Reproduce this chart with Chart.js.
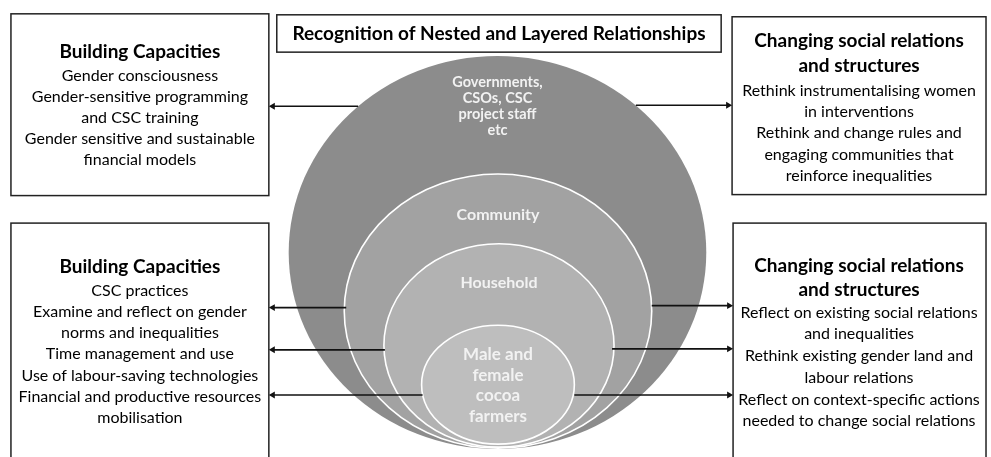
<!DOCTYPE html>
<html>
<head>
<meta charset="utf-8">
<script src="https://cdn.jsdelivr.net/npm/chart.js@4/dist/chart.umd.min.js"></script>
<style>
  html, body { margin: 0; padding: 0; background: #ffffff; }
  #wrap { width: 991px; height: 457px; }
</style>
</head>
<body>
<div id="wrap"><canvas id="c" width="991" height="457"></canvas></div>
<script>
// ---------- content ----------
const diagramTitle = 'Recognition of Nested and Layered Relationships';

const layerLabels = [
  ['Governments,', 'CSOs, CSC', 'project staff', 'etc'],
  ['Community'],
  ['Household'],
  ['Male and', 'female', 'cocoa', 'farmers']
];
const layerCenterX = [497.5, 498, 499, 498];
const layerCenterY = [253, 312.5, 347.5, 387.5];
const layerRadiusX = [210.5, 155, 116, 77];
const layerRadiusY = [200, 139.5, 103.5, 60.5];

const boxHeadings = [
  ['Building Capacities'],
  ['Changing social relations', 'and structures'],
  ['Building Capacities'],
  ['Changing social relations', 'and structures']
];
const boxItems = [
  ['Gender consciousness', 'Gender-sensitive programming', 'and CSC training',
   'Gender sensitive and sustainable', 'financial models'],
  ['Rethink instrumentalising women', 'in interventions', 'Rethink and change rules and',
   'engaging communities that', 'reinforce inequalities'],
  ['CSC practices', 'Examine and reflect on gender', 'norms and inequalities',
   'Time management and use', 'Use of labour-saving technologies',
   'Financial and productive resources', 'mobilisation'],
  ['Reflect on existing social relations', 'and inequalities', 'Rethink existing gender land and',
   'labour relations', 'Reflect on context-specific actions', 'needed to change social relations']
];

// arrows: start at a layer edge, end at a box edge
const arrowFromX = [357, 637, 345, 384, 422, 653, 613, 575];
const arrowToX   = [267, 734, 267, 267, 267, 735, 735, 735];
const arrowY     = [104, 103, 309, 352, 398, 307, 351, 398];

// ---------- layout / style ----------
const FONT = 'Lato, "Open Sans", sans-serif';
const layerColors = ['#8c8c8c', '#a2a2a2', '#b2b2b2', '#bebebe'];
const layerStroke = [null, '#ffffff', '#ffffff', '#ffffff'];
const layerText = {
  firstY: [79.5, 214.5, 283.5, 357],
  step:   [16.3, 0, 0, 21],
  size:   [14.5, 16, 16, 17]
};
const boxRects = [
  { x0: 7,   y0: 10,  x1: 267, y1: 195 },
  { x0: 734, y0: 13,  x1: 990, y1: 194 },
  { x0: 7,   y0: 223, x1: 267, y1: 470 },
  { x0: 735, y0: 223, x1: 990, y1: 470 }
];
const boxText = {
  cx: [137, 862, 137, 862],
  headY: [49, 38, 268, 267],
  headStep: [25, 25, 25, 24],
  bodyY: [73, 88, 292, 314],
  bodyStep: [21.5, 21.75, 21.5, 22.1]
};
const titleRect = { x0: 275, y0: 11, x1: 723, y1: 49, ty: 30.5 };
const arrowHead = 4;

// ---------- datasets ----------
const layerDataset = {
  type: 'scatter',
  label: 'layers',
  data: layerCenterX.map((x, i) => ({ x: x, y: layerCenterY[i] })),
  pointRadius: 0,
  pointHoverRadius: 0,
  order: 10
};
const arrowDatasets = arrowFromX.map((fx, i) => {
  const dir = arrowToX[i] > fx ? 1 : -1;
  return {
    type: 'scatter',
    label: 'arrow' + i,
    data: [{ x: fx, y: arrowY[i] }, { x: arrowToX[i] - dir * arrowHead, y: arrowY[i] }],
    showLine: true,
    borderColor: '#111111',
    backgroundColor: '#111111',
    borderWidth: 1.6,
    pointRadius: [0, arrowHead],
    pointStyle: 'triangle',
    pointRotation: [0, dir > 0 ? 90 : -90],
    pointBorderWidth: 0,
    pointHoverRadius: 0,
    clip: false,
    order: 1
  };
});

// ---------- plugin: layers, boxes and texts ----------
const diagramPlugin = {
  id: 'diagram',
  beforeDatasetsDraw(chart) {
    const ctx = chart.ctx;
    const xs = chart.scales.x, ys = chart.scales.y;
    const meta = chart.getDatasetMeta(0);
    ctx.save();
    meta.data.forEach((pt, i) => {
      const rx = Math.abs(xs.getPixelForValue(layerCenterX[i] + layerRadiusX[i]) - pt.x);
      const ry = Math.abs(ys.getPixelForValue(layerCenterY[i] + layerRadiusY[i]) - pt.y);
      ctx.beginPath();
      ctx.ellipse(pt.x, pt.y, rx, ry, 0, 0, Math.PI * 2);
      ctx.fillStyle = layerColors[i];
      ctx.fill();
      if (layerStroke[i]) {
        ctx.lineWidth = 1.6;
        ctx.strokeStyle = layerStroke[i];
        ctx.stroke();
      }
    });
    // boxes
    ctx.strokeStyle = '#222222';
    ctx.lineWidth = 1.5;
    boxRects.concat([titleRect]).forEach(r => {
      const x0 = xs.getPixelForValue(r.x0), x1 = xs.getPixelForValue(r.x1);
      const y0 = ys.getPixelForValue(r.y0), y1 = ys.getPixelForValue(r.y1);
      ctx.fillStyle = '#ffffff';
      ctx.fillRect(x0, y0, x1 - x0, y1 - y0);
      ctx.strokeRect(x0, y0, x1 - x0, y1 - y0);
    });
    ctx.restore();
  },
  afterDatasetsDraw(chart) {
    const ctx = chart.ctx;
    const xs = chart.scales.x, ys = chart.scales.y;
    const meta = chart.getDatasetMeta(0);
    ctx.save();
    ctx.textAlign = 'center';
    ctx.textBaseline = 'middle';
    // layer labels
    layerLabels.forEach((lines, i) => {
      ctx.fillStyle = '#f2f2f2';
      ctx.font = 'bold ' + layerText.size[i] + 'px ' + FONT;
      lines.forEach((t, j) => {
        ctx.fillText(t, meta.data[i].x, ys.getPixelForValue(layerText.firstY[i] + j * layerText.step[i]));
      });
    });
    // title
    ctx.fillStyle = '#000000';
    ctx.font = 'bold 19px ' + FONT;
    ctx.fillText(diagramTitle, xs.getPixelForValue((titleRect.x0 + titleRect.x1) / 2), ys.getPixelForValue(titleRect.ty));
    // box texts
    boxHeadings.forEach((heads, i) => {
      const cx = xs.getPixelForValue(boxText.cx[i]);
      ctx.font = 'bold 19px ' + FONT;
      heads.forEach((t, j) => ctx.fillText(t, cx, ys.getPixelForValue(boxText.headY[i] + j * boxText.headStep[i])));
      ctx.font = '16px ' + FONT;
      boxItems[i].forEach((t, j) => ctx.fillText(t, cx, ys.getPixelForValue(boxText.bodyY[i] + j * boxText.bodyStep[i])));
    });
    ctx.restore();
  }
};

new Chart(document.getElementById('c'), {
  type: 'scatter',
  data: { datasets: [layerDataset].concat(arrowDatasets) },
  options: {
    responsive: false,
    animation: false,
    layout: { padding: 0 },
    events: [],
    scales: {
      x: { type: 'linear', min: 0, max: 991, display: false },
      y: { type: 'linear', min: 0, max: 457, reverse: true, display: false }
    },
    plugins: { legend: { display: false }, tooltip: { enabled: false }, title: { display: false } }
  },
  plugins: [diagramPlugin]
});
</script>
</body>
</html>
